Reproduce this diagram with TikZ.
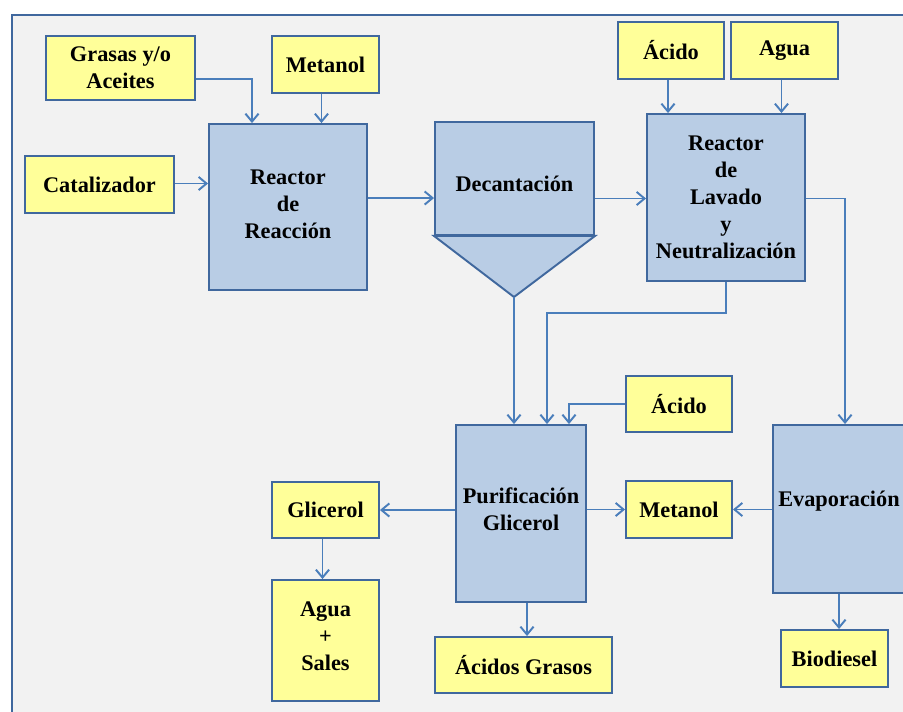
\documentclass[tikz,border=0pt]{standalone}
\usepackage{xcolor}
\usepackage{fontspec}
\setmainfont{Liberation Serif}
\usepackage{tikz}
\usetikzlibrary{positioning, arrows.meta, calc}

\begin{document}
\begin{tikzpicture}[x=0.02cm, y=-0.02cm, >={Straight Barb[length=4.5pt, width=7.5pt]},
    every node/.style={font=\bfseries\fontsize{12.7}{15.4}\selectfont}]
    % Define colors for the blocks and lines
    \definecolor{feedyellow}{RGB}{255,255,153}
    \definecolor{unitblue}{RGB}{185,205,229}
    \definecolor{edgeblue}{RGB}{64,104,158}
    \definecolor{flowblue}{RGB}{74,126,187}
    \definecolor{panelgray}{RGB}{242,242,242}
    % Define block styles
    \tikzset{
        stream/.style={draw=edgeblue, line width=1.1pt, fill=feedyellow, rectangle, align=center, inner sep=0pt},
        unit/.style={draw=edgeblue, line width=1.1pt, fill=unitblue, rectangle, align=center, inner sep=0pt},
        flow/.style={->, draw=flowblue, line width=1.1pt},
    }
    % Frame and background
    \clip (0,0) rectangle (903,711);
    \fill[panelgray] (12,15) rectangle (920,720);
    \draw[edgeblue, line width=1.4pt] (12,720) -- (12,15) -- (920,15);

    % Nodes
    \node[stream, minimum width=2.98cm, minimum height=1.28cm] (grasas) at (120.5,68) {Grasas y/o\\Aceites};
    \node[stream, minimum width=2.14cm, minimum height=1.14cm] (metanolin) at (325.5,64.5) {Metanol};
    \node[stream, minimum width=2.98cm, minimum height=1.14cm] (catalizador) at (99.5,184.5) {Catalizador};
    \node[unit, minimum width=3.16cm, minimum height=3.32cm] (reaccion) at (288,207) {Reactor\\de\\Reacción\\[-12pt]};
    \node[unit, minimum width=3.18cm, minimum height=2.26cm] (decantacion) at (514.5,178.5) {\raisebox{-2.8pt}[\height][\depth]{Decantación}};
    \coordinate (tolva) at (514,297);
    \draw[edgeblue, line width=1.1pt, fill=unitblue] (decantacion.south west) -- (decantacion.south east) -- (tolva) -- cycle;
    \node[stream, minimum width=2.12cm, minimum height=1.14cm] (acidolav) at (671,50.5) {Ácido};
    \node[stream, minimum width=2.14cm, minimum height=1.14cm] (agua) at (784.5,50.5) {Agua};
    \node[unit, minimum width=3.16cm, minimum height=3.34cm] (lavado) at (726,197.5) {Reactor\\de\\Lavado\\y\\Neutralización};
    \node[stream, minimum width=2.12cm, minimum height=1.12cm] (acidopur) at (679,404) {Ácido};
    \node[unit, minimum width=2.6cm, minimum height=3.54cm] (purificacion) at (521,513.5) {Purificación\\Glicerol\\[-10pt]};
    \node[stream, minimum width=2.14cm, minimum height=1.12cm] (glicerol) at (325.5,510) {Glicerol};
    \node[stream, minimum width=2.14cm, minimum height=2.42cm] (sales) at (325.5,640.5) {Agua\\+\\Sales\\[-10.8pt]};
    \node[stream, minimum width=3.54cm, minimum height=1.12cm] (grasos) at (523.5,665) {Ácidos Grasos};
    \node[stream, minimum width=2.12cm, minimum height=1.14cm] (metanolout) at (679,509.5) {Metanol};
    \node[unit, minimum width=2.64cm, minimum height=3.36cm] (evaporacion) at (839,509) {\raisebox{4.5pt}[\height][\depth]{Evaporación}};
    \node[stream, minimum width=2.14cm, minimum height=1.14cm] (biodiesel) at (834.5,658.5) {Biodiesel};

    % Arrows connecting the nodes
    \draw[flow] ($(grasas.east)+(0,11)$) -| ($(reaccion.north)+(-36,0)$);
    \draw[flow] ($(metanolin.south)+(-4,0)$) -- ($(metanolin.south |- reaccion.north)+(-4,0)$);
    \draw[flow] ($(catalizador.east)+(0,-1)$) -- ($(catalizador.east -| reaccion.west)+(0,-1)$);
    \draw[flow] ($(reaccion.east)+(0,-9)$) -- ($(reaccion.east -| decantacion.west)+(0,-9)$);
    \draw[flow] ($(decantacion.east)+(0,20)$) -- ($(decantacion.east -| lavado.west)+(0,20)$);
    \draw[flow] ($(acidolav.south)+(-3,0)$) -- ($(acidolav.south |- lavado.north)+(-3,0)$);
    \draw[flow] ($(agua.south)+(-3,0)$) -- ($(agua.south |- lavado.north)+(-3,0)$);
    \draw[flow] ($(lavado.east)+(0,1)$) -| ($(evaporacion.north)+(6,0)$);
    \draw[flow] (lavado.south) -- ++(0,31) -| ($(purificacion.north)+(26,0)$);
    \draw[flow] (tolva) -- (tolva |- purificacion.north);
    \draw[flow] (acidopur.west) -| ($(purificacion.north)+(48,0)$);
    \draw[flow] (purificacion.west |- glicerol) -- (glicerol.east);
    \draw[flow] ($(glicerol.south)+(-3,0)$) -- ($(sales.north)+(-3,0)$);
    \draw[flow] ($(purificacion.south)+(6,0)$) -- ($(purificacion.south |- grasos.north)+(6,0)$);
    \draw[flow] (purificacion.east |- metanolout) -- (metanolout.west);
    \draw[flow] (evaporacion.west |- metanolout) -- (metanolout.east);
    \draw[flow] (evaporacion.south) -- (evaporacion.south |- biodiesel.north);

\end{tikzpicture}
\end{document}
